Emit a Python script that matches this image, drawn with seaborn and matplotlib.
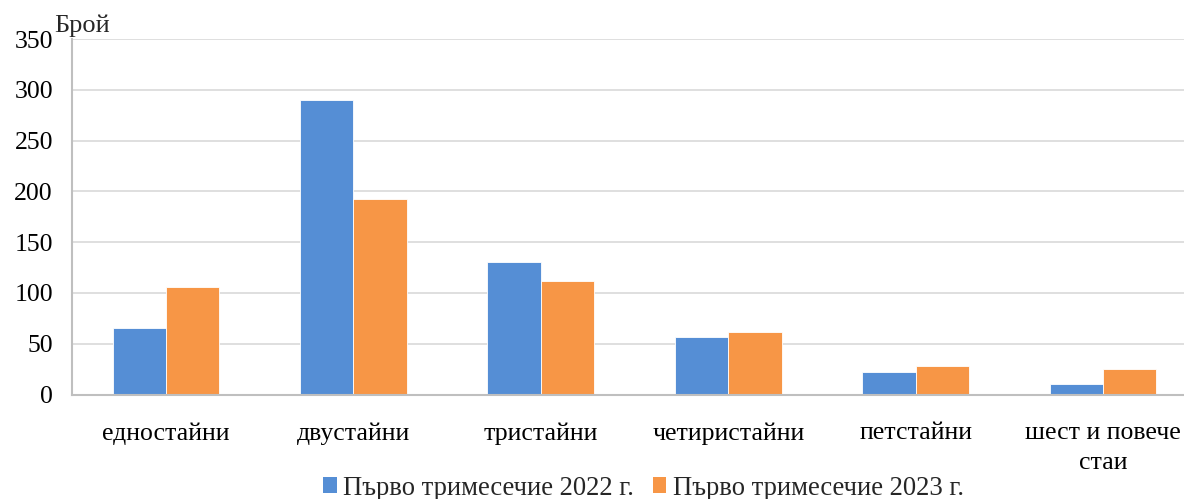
import seaborn as sns
import pandas as pd
import matplotlib.pyplot as plt
from matplotlib.patches import Patch

categories = ["едностайни", "двустайни", "тристайни", "четиристайни", "петстайни", "шест и повече\nстаи"]
series_names = ["Първо тримесечие 2022 г.", "Първо тримесечие 2023 г."]
values_2022 = [65, 290, 130, 57, 22, 10]
values_2023 = [106, 192, 112, 62, 28, 25]
colors = ["#558ED5", "#F79646"]

df = pd.DataFrame({
    "category": categories * 2,
    "series": [series_names[0]] * len(categories) + [series_names[1]] * len(categories),
    "value": values_2022 + values_2023,
})

sns.set_style("white")
plt.rcParams["font.family"] = ["Liberation Serif", "DejaVu Serif"]

fig = plt.figure(figsize=(11.84, 4.99), dpi=100)
# plot area runs a little past the right edge, as in the cropped original
ax = fig.add_axes([0.0611, 0.2094, 0.9497, 0.7124])

sns.barplot(data=df, x="category", y="value", hue="series", order=categories,
            hue_order=series_names, palette=colors, width=0.57, gap=0,
            edgecolor="white", linewidth=0.6, saturation=1, ax=ax, legend=False)

ax.set_ylim(0, 350)
ax.set_xlim(-0.5, 5.5)
ax.set_yticks(range(0, 351, 50))
ax.yaxis.grid(True, color="#d9d9d9", linewidth=1.2)
ax.set_axisbelow(True)
for s in ["top", "right"]:
    ax.spines[s].set_visible(False)
for s in ["left", "bottom"]:
    ax.spines[s].set_color("#bfbfbf")
    ax.spines[s].set_linewidth(1.5)
ax.tick_params(axis="both", length=0, labelsize=18.5, colors="black")
ax.tick_params(axis="y", pad=14)
ax.tick_params(axis="x", pad=20)
for lbl in ax.get_xticklabels():
    lbl.set_linespacing(1.45)
ax.set_xlabel("")
ax.set_ylabel("")
fig.text(0.046, 0.948, "Брой", fontsize=19, ha="left", va="center")

handles = [Patch(facecolor=c, edgecolor="none") for c in colors]
fig.legend(handles, series_names, loc="center", bbox_to_anchor=(0.5435, 0.022), ncol=2,
           frameon=False, fontsize=19.2, handlelength=0.5, handleheight=0.5,
           handletextpad=0.25, columnspacing=0.7, borderpad=0)

fig.savefig("out.png", dpi=100)
